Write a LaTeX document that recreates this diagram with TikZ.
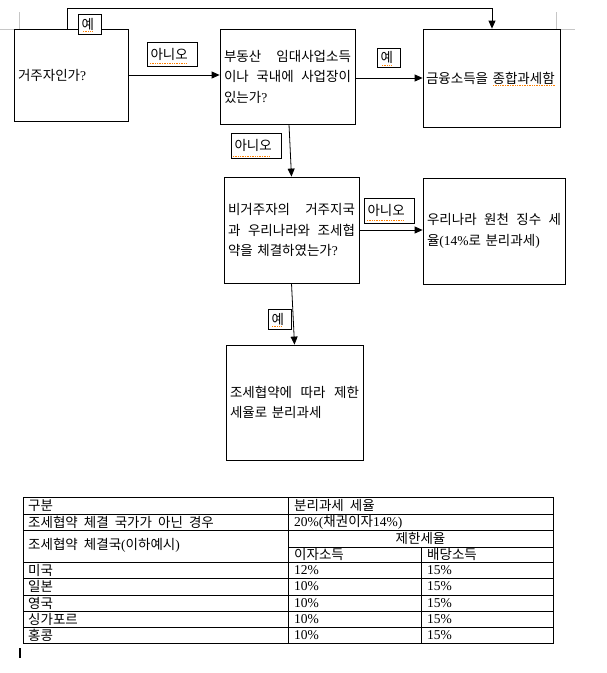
\documentclass[tikz,border=0pt]{standalone}
\usepackage{fontspec}
\setmainfont[WordSpace=2]{Noto Sans CJK KR}
\newfontfamily\lt{Liberation Serif}
\usetikzlibrary{arrows.meta}
\begin{document}
\begin{tikzpicture}[x=1pt,y=-1pt,
  box/.style={draw, line width=0.8pt, inner xsep=4pt, inner ysep=0pt, align=left, font=\fontsize{13.5}{20.5}\selectfont},
  lbl/.style={draw, fill=white, line width=0.8pt, inner xsep=3.5pt, inner ysep=0pt, align=left, font=\fontsize{13.5}{15}\selectfont},
  arr/.style={line width=0.8pt, -{Triangle[length=8pt,width=7pt]}},
  squig/.style={draw=orange, densely dotted, line width=0.7pt},
  cell/.style={anchor=west, inner sep=0pt, font=\fontsize{13.5}{15}\selectfont},
  grid/.style={line width=0.8pt},
  cropmk/.style={draw=gray!45, line width=0.6pt}
]
\useasboundingbox (0,0) rectangle (607,673);

% crop marks
\draw[cropmk] (0,29) -- (19,29) -- (19,12);
\draw[cropmk] (556,12) -- (556,29) -- (575,29);

% boxes
\node[box, text width=106pt, minimum height=92pt] (b1) at (71,75) {거주자인가{\lt ?}};
\node[box, text width=127pt, minimum height=95pt] (b2) at (287.5,76.5) {부동산\hfill 임대사업소득\\이나\hfill 국내에\hfill 사업장이\\있는가{\lt ?}};
\node[box, inner xsep=3pt, text width=131pt, minimum height=98pt] (b3) at (491.5,78) {금융소득을 종합과세함};
\node[box, text width=127pt, minimum height=106pt] (b4) at (291.5,230) {비거주자의\hfill 거주지국\\과\hfill 우리나라와\hfill 조세협\\약을 체결하였는가{\lt ?}};
\node[box, text width=134pt, minimum height=106pt] (b5) at (494,231) {우리나라\hfill 원천\hfill 징수\hfill 세\\율{\lt (14\%}로 분리과세{\lt )}};
\node[box, text width=129pt, minimum height=115pt] (b6) at (294.5,402.5) {조세협약에\hfill 따라\hfill 제한\\세율로 분리과세};

% connectors
\coordinate (t1) at (67.7,8);
\coordinate (t2) at (492,8);
\draw[arr] (t1 |- b1.north) -- (t1) -- (t2) -- (t2 |- b3.north);
\draw[arr] (b1.east) -- (b1.east -| b2.west);
\draw[arr] (b3.west -| b2.east) -- (b3.west);
\draw[arr] ([xshift=1.5pt]b2.south) -- (b4.north);
\draw[arr] (b4.east) -- (b4.east -| b5.west);
\draw[arr] (b4.south) -- (b6.north);

% labels
\node[lbl, text width=16pt, minimum height=20pt] (l1) at (89.5,24) {예};
\node[lbl, text width=43pt, minimum height=24pt] (l2) at (172,54) {아니오};
\node[lbl, text width=16pt, minimum height=19pt] (l3) at (388.5,57.5) {예};
\node[lbl, text width=43pt, minimum height=25pt] (l4) at (256,145.5) {아니오};
\node[lbl, text width=43pt, minimum height=25pt] (l5) at (389,210.5) {아니오};
\node[lbl, text width=16pt, minimum height=20pt] (l6) at (279.5,319) {예};

% spell-check marks
\draw[squig] (83,31) -- (93,31);
\draw[squig] (150,63) -- (187,63);
\draw[squig] (382,65) -- (392,65);
\draw[squig] (233,156) -- (270,156);
\draw[squig] (367,220) -- (403,220);
\draw[squig] (272,326) -- (282,326);
\draw[squig] (493,85) -- (555,85);

% table
\draw[grid] (23,497) rectangle (553,643);
\foreach \yy in {514,530,562,578,595,611,627} \draw[grid] (23,\yy) -- (553,\yy);
\draw[grid] (288,547) -- (553,547);
\draw[grid] (288,497) -- (288,643);
\draw[grid] (421,547) -- (421,643);

\node[cell] (c11) at (28,505.5) {구분};
\node[cell] (c12) at (294,505.5) {분리과세 세율};
\node[cell] (c21) at (28,522) {조세협약 체결 국가가 아닌 경우};
\node[cell] (c22) at (294,522) {{\lt 20\%(}채권이자{\lt 14\%)}};
\node[cell] (c31) at (28,545.5) {조세협약 체결국{\lt (}이하예시{\lt )}};
\node[cell, anchor=center] (c32) at (420.5,538.5) {제한세율};
\node[cell] (c41) at (294,554.5) {이자소득};
\node[cell] (c42) at (427,554.5) {배당소득};
\node[cell] (r1a) at (28,570) {미국};
\node[cell] (r1b) at (294,570) {\lt 12\%};
\node[cell] (r1c) at (427,570) {\lt 15\%};
\node[cell] (r2a) at (28,586.5) {일본};
\node[cell] (r2b) at (294,586.5) {\lt 10\%};
\node[cell] (r2c) at (427,586.5) {\lt 15\%};
\node[cell] (r3a) at (28,603) {영국};
\node[cell] (r3b) at (294,603) {\lt 10\%};
\node[cell] (r3c) at (427,603) {\lt 15\%};
\node[cell] (r4a) at (28,619) {싱가포르};
\node[cell] (r4b) at (294,619) {\lt 10\%};
\node[cell] (r4c) at (427,619) {\lt 15\%};
\node[cell] (r5a) at (28,635) {홍콩};
\node[cell] (r5b) at (294,635) {\lt 10\%};
\node[cell] (r5c) at (427,635) {\lt 15\%};

% text cursor
\draw[line width=2pt] (20,648) -- (20,658);
\end{tikzpicture}
\end{document}
